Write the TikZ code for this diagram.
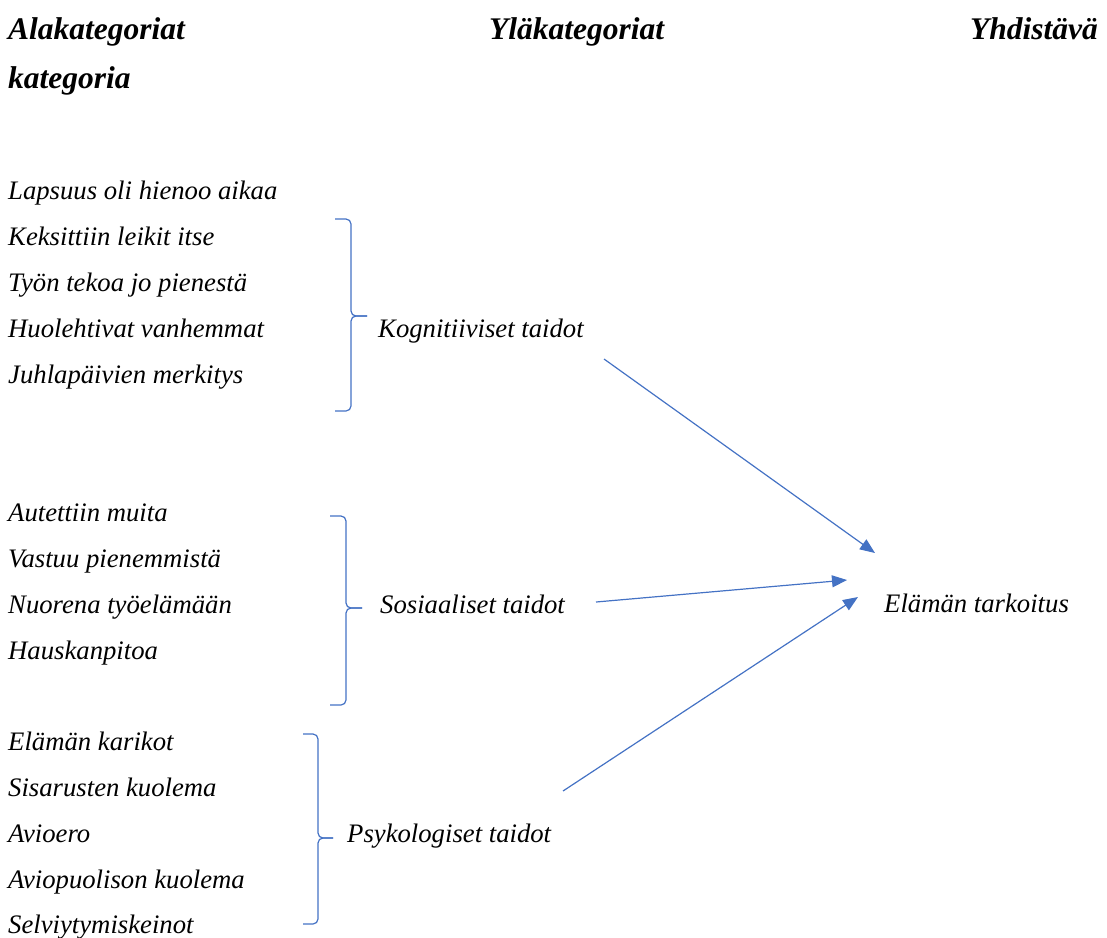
\documentclass[tikz,border=0pt]{standalone}
\usepackage{fontspec}
\setmainfont{Liberation Serif}
\usetikzlibrary{arrows.meta}
\definecolor{ofblue}{HTML}{4472C4}
\tikzset{
  txt/.style={anchor=base west, inner sep=0pt, font=\fontsize{26.7}{30}\selectfont\itshape},
  hdr/.style={anchor=base west, inner sep=0pt, font=\fontsize{31.5}{36}\selectfont\bfseries\itshape},
  brace/.style={draw=ofblue, line width=1.2pt, rounded corners=5pt},
  conn/.style={draw=ofblue, line width=1.2pt, -{Triangle[length=15pt,width=12pt]}}
}
\begin{document}
\begin{tikzpicture}[x=1pt,y=-1pt]
\useasboundingbox (0,0) rectangle (1107,937);
% headers
\node[hdr] (h1) at (8,39) {Alakategoriat};
\node[hdr] (h2) at (489,39) {Yläkategoriat};
\node[hdr, anchor=base east] (h3) at (1098,39) {Yhdistävä};
\node[hdr] (h4) at (8,88) {kategoria};
% group 1
\node[txt] (a1) at (8,199) {Lapsuus oli hienoo aikaa};
\node[txt] (a2) at (8,245) {Keksittiin leikit itse};
\node[txt] (a3) at (8,291) {Työn tekoa jo pienestä};
\node[txt] (a4) at (8,337) {Huolehtivat vanhemmat};
\node[txt] (a5) at (8,383) {Juhlapäivien merkitys};
% group 2
\node[txt] (b1) at (8,521) {Autettiin muita};
\node[txt] (b2) at (8,567) {Vastuu pienemmistä};
\node[txt] (b3) at (8,613) {Nuorena työelämään};
\node[txt] (b4) at (8,659) {Hauskanpitoa};
% group 3
\node[txt] (c1) at (8,750) {Elämän karikot};
\node[txt] (c2) at (8,796) {Sisarusten kuolema};
\node[txt] (c3) at (8,842) {Avioero};
\node[txt] (c4) at (8,888) {Aviopuolison kuolema};
\node[txt] (c5) at (8,933) {Selviytymiskeinot};
% categories
\node[txt] (kog) at (378,337) {Kognitiiviset taidot};
\node[txt] (sos) at (380,613) {Sosiaaliset taidot};
\node[txt] (psy) at (347,842) {Psykologiset taidot};
\node[txt] (ela) at (884,612) {Elämän tarkoitus};
% braces
\draw[brace] (335,219) -- (351,219) -- (351,316) -- (367,316);
\draw[brace] (367,316) -- (351,316) -- (351,411) -- (335,411);
\draw[brace] (330,516) -- (346,516) -- (346,608) -- (362,608);
\draw[brace] (362,608) -- (346,608) -- (346,705) -- (330,705);
\draw[brace] (303,734) -- (318,734) -- (318,838) -- (333,838);
\draw[brace] (333,838) -- (318,838) -- (318,924) -- (303,924);
% connectors
\coordinate (k1) at (604,359);
\coordinate (k2) at (875,553);
\coordinate (s1) at (596,602);
\coordinate (s2) at (847,580);
\coordinate (p1) at (563,791);
\coordinate (p2) at (858,597);
\draw[conn] (k1) -- (k2);
\draw[conn] (s1) -- (s2);
\draw[conn] (p1) -- (p2);
\end{tikzpicture}
\end{document}
